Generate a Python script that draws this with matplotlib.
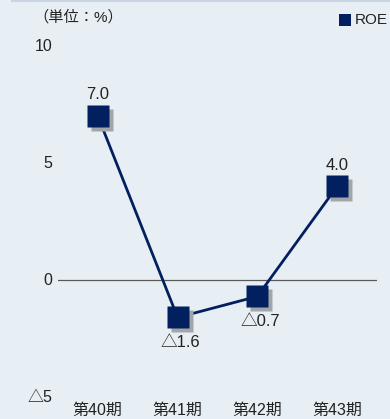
import matplotlib
matplotlib.use("Agg")
import matplotlib.pyplot as plt
import matplotlib.transforms as mtransforms
from matplotlib.patches import Rectangle
from matplotlib.lines import Line2D

plt.rcParams['font.family'] = ['Liberation Sans', 'Noto Sans CJK JP', 'DejaVu Sans']

periods = ["第40期", "第41期", "第42期", "第43期"]
roe = [7.0, -1.6, -0.7, 4.0]
value_labels = ["7.0", "△1.6", "△0.7", "4.0"]
y_ticks = [10, 5, 0, -5]
y_tick_labels = ["10", "5", "0", "△5"]

bg = "#E8EFF4"
navy = "#021F60"
shadow = "#A3A6A9"

W, H = 390, 419
fig = plt.figure(figsize=(W / 100, H / 100), dpi=100, facecolor=bg)

left, right, top, bottom = 58, 377, 46, 397
ax = fig.add_axes([left / W, 1 - bottom / H, (right - left) / W, (bottom - top) / H])
ax.set_facecolor(bg)
ax.set_xlim(-0.5, 3.5)
ax.set_ylim(-5, 10)
for s in ax.spines.values():
    s.set_visible(False)
ax.set_xticks([])
ax.set_yticks([])

x = list(range(len(periods)))

# zero line
ax.axhline(0, color="#5A5A5A", lw=0.9, zorder=1)

# connecting line
ax.plot(x, roe, color=navy, lw=2.0, zorder=2, solid_capstyle="butt")

# drop shadow behind markers
off = mtransforms.offset_copy(ax.transData, fig=fig, x=4, y=-4, units="dots")
ax.plot(x, roe, ls="none", marker="s", ms=16.5, color=shadow, mec="none",
        transform=off, zorder=3)
ax.plot(x, roe, ls="none", marker="s", ms=16.5, color=navy, mec="none", zorder=4)

# value labels
for xi, v, lab in zip(x, roe, value_labels):
    if v >= 0:
        ax.annotate(lab, (xi, v), xytext=(0, 10), textcoords="offset points",
                    ha="center", va="bottom", fontsize=12, color="#222222")
    else:
        ax.annotate(lab, (xi, v), xytext=(2, -13), textcoords="offset points",
                    ha="center", va="top", fontsize=12, color="#222222")

# y tick labels
for t, lab in zip(y_ticks, y_tick_labels):
    ax.annotate(lab, (-0.5, t), xytext=(-4, 0), textcoords="offset points",
                ha="right", va="center", fontsize=11.5, color="#222222")

# category labels
for xi, lab in zip(x, periods):
    ax.annotate(lab, (xi, -5), xytext=(0, -4), textcoords="offset points",
                ha="center", va="top", fontsize=11.5, color="#222222")

# unit label
fig.text(33 / W, 1 - 17 / H, "（単位：%）", ha="left", va="center",
         fontsize=11, color="#222222")

# legend
fig.patches.append(Rectangle((339 / W, 1 - 26 / H), 12 / W, 12 / H,
                             transform=fig.transFigure, facecolor=navy,
                             edgecolor="none"))
fig.text(355 / W, 1 - 20 / H, "ROE", ha="left", va="center",
         fontsize=11, color="#222222")

# top border
fig.lines.append(Line2D([12 / W, 1], [1 - 1.5 / H, 1 - 1.5 / H],
                        transform=fig.transFigure, color="#C9D5E2", lw=1.5))

fig.savefig("out.png", dpi=100, facecolor=bg)
